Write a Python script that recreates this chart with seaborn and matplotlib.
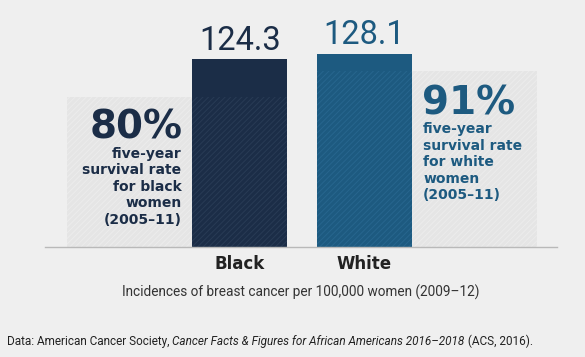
import numpy as np
import pandas as pd
import seaborn as sns
import matplotlib.pyplot as plt

# Data
groups = ['Black', 'White']
incidence = [124.3, 128.1]          # per 100,000 women (2009-12)
survival = [80, 91]                 # five-year survival rate, % (2005-11)
survival_text = ['five-year\nsurvival rate\nfor black\nwomen\n(2005–11)',
                 'five-year\nsurvival rate\nfor white\nwomen\n(2005–11)']
bar_colors = ['#1b2d47', '#1d5a80']
hatch_colors = ['#283b55', '#27668e']

df = pd.DataFrame({'group': groups, 'incidence': incidence, 'survival': survival})
df['survived'] = df['incidence'] * df['survival'] / 100

sns.set_theme(style='white')
plt.rcParams['font.family'] = ['DejaVu Sans']
plt.rcParams['hatch.linewidth'] = 0.7
bg = '#efefef'

fig = plt.figure(figsize=(5.85, 3.57), dpi=100, facecolor=bg)
ax = fig.add_axes([45 / 585, 110 / 357, 512 / 585, 241.6 / 357])
ax.set_facecolor(bg)

bw = 0.763
# shaded bands beside the bars (height = survived share)
ax.bar(-bw / 2, df['survived'][0], width=-1.01, align='edge', color='#e5e5e5',
       edgecolor='#ececec', hatch='//////', linewidth=0, zorder=1)
ax.bar(1 + bw / 2, df['survived'][1], width=1.005, align='edge', color='#e5e5e5',
       edgecolor='#ececec', hatch='//////', linewidth=0, zorder=1)

sns.barplot(data=df, x='group', y='incidence', hue='group', palette=bar_colors,
            width=bw, saturation=1, legend=False, ax=ax, linewidth=0, zorder=2)
full_bars = list(ax.patches[2:])

sns.barplot(data=df, x='group', y='survived', hue='group', palette=bar_colors,
            width=bw, saturation=1, legend=False, ax=ax, linewidth=0, zorder=3)
for p, hc in zip(ax.patches[4:], hatch_colors):
    p.set_hatch('//////')
    p.set_edgecolor(hc)
    p.set_linewidth(0)

for i, (p, v) in enumerate(zip(full_bars, incidence)):
    ax.annotate(f'{v}', xy=(p.get_x() + p.get_width() / 2, v), xytext=(0, 1.5),
                textcoords='offset points', ha='center', va='bottom',
                fontsize=23.5, family='Roboto', fontweight='normal',
                color=bar_colors[i])

# survival annotations
ax.annotate(f'{survival[0]}%', xy=(-bw / 2, df['survived'][0]), xytext=(-7, -8.5),
            textcoords='offset points', ha='right', va='top', fontsize=28,
            fontweight='bold', color=bar_colors[0])
ax.annotate(survival_text[0], xy=(-bw / 2, df['survived'][0]), xytext=(-8, -36),
            textcoords='offset points', ha='right', va='top', fontsize=10,
            fontweight='bold', color=bar_colors[0], linespacing=1.22)
ax.annotate(f'{survival[1]}%', xy=(1 + bw / 2, df['survived'][1]), xytext=(7, -9.5),
            textcoords='offset points', ha='left', va='top', fontsize=28,
            fontweight='bold', color=bar_colors[1])
ax.annotate(survival_text[1], xy=(1 + bw / 2, df['survived'][1]), xytext=(8, -37),
            textcoords='offset points', ha='left', va='top', fontsize=10,
            fontweight='bold', color=bar_colors[1], linespacing=1.22)

ax.set_xlim(-1.566, 2.546)
ax.set_ylim(0, 160)
ax.set_xlabel('')
ax.set_ylabel('')
ax.set_yticks([])
ax.tick_params(axis='x', length=0, pad=6, labelsize=12, labelcolor='#222222')
for lbl in ax.get_xticklabels():
    lbl.set_fontweight('bold')
for s in ['top', 'left', 'right']:
    ax.spines[s].set_visible(False)
ax.spines['bottom'].set_color('#b9b9b9')
ax.spines['bottom'].set_linewidth(1)
ax.spines['bottom'].set_zorder(4)

fig.text(301 / 585, 1 - 292 / 357, 'Incidences of breast cancer per 100,000 women (2009–12)',
         ha='center', va='center', fontsize=9.8, family='Roboto', color='#333333')

t1 = fig.text(7 / 585, 1 - 348 / 357, 'Data: American Cancer Society, ', ha='left',
              va='bottom', fontsize=8.5, family='Roboto', color='#222222')
t2 = ax.annotate('Cancer Facts & Figures for African Americans 2016–2018', xy=(1, 0),
                 xycoords=t1, ha='left', va='bottom', fontsize=8.5, family='Roboto',
                 style='italic', color='#222222', annotation_clip=False)
ax.annotate(' (ACS, 2016).', xy=(1, 0), xycoords=t2, ha='left', va='bottom',
            fontsize=8.5, family='Roboto', color='#222222', annotation_clip=False)

fig.savefig('out.png', dpi=100, facecolor=bg)
